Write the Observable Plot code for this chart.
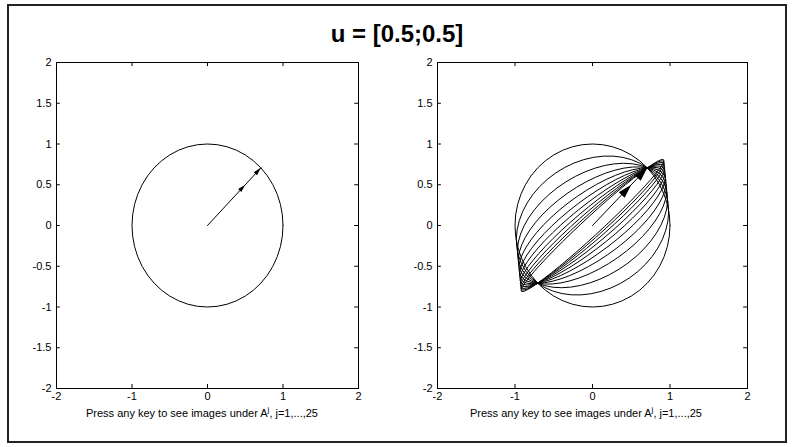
<!DOCTYPE html>
<html><head><meta charset="utf-8">
<script src="https://cdn.jsdelivr.net/npm/d3@7"></script>
<script src="https://cdn.jsdelivr.net/npm/@observablehq/plot@0.6"></script>
<style>
body{margin:0;background:#fff;}
#wrap{position:relative;width:794px;height:447px;overflow:hidden;font-family:"Liberation Sans",Arial,sans-serif;background:#fff;}
#frame{position:absolute;left:7px;top:4px;width:780px;height:439px;border:2px solid #222;box-sizing:border-box;}
#title{position:absolute;left:0;width:794px;top:20px;text-align:center;font-family:"Liberation Sans",Arial,sans-serif;font-weight:bold;font-size:24px;line-height:28px;color:#000;}
.panel{position:absolute;top:0;}
.cap{position:absolute;top:405px;width:360px;font-size:11px;text-align:center;color:#000;}
.cap sup{font-size:8px;}
</style></head><body>
<div id="wrap">
  <div id="frame"></div>
  <div id="title"></div>
  <div id="left" class="panel" style="left:0px"></div>
  <div id="right" class="panel" style="left:397px"></div>
  <div class="cap" style="left:22px">Press any key to see images under A<sup>j</sup>, j=1,...,25</div>
  <div class="cap" style="left:406px">Press any key to see images under A<sup>j</sup>, j=1,...,25</div>
</div>
<script>
// ---- data ----
const titleText = "u = [0.5;0.5]";
const tickX = [-2, -1, 0, 1, 2];
const tickY = [-2, -1.5, -1, -0.5, 0, 0.5, 1, 1.5, 2];
const matrixA = [[0.983, 0.017], [0.163, 0.837]];
const powersLeft = [0];                                // unit circle only
const powersRight = [0, 1, 2, 3, 4, 5, 6, 7, 8, 9, 10];
const vectorU = [0.5, 0.5];
const unitU = [0.7071, 0.7071];
const circleSteps = 48;

document.getElementById("title").textContent = titleText;

function matMul(P, Q) {
  return [[P[0][0]*Q[0][0]+P[0][1]*Q[1][0], P[0][0]*Q[0][1]+P[0][1]*Q[1][1]],
          [P[1][0]*Q[0][0]+P[1][1]*Q[1][0], P[1][0]*Q[0][1]+P[1][1]*Q[1][1]]];
}
function matPow(M, j) { let R = [[1,0],[0,1]]; for (let k = 0; k < j; k++) R = matMul(M, R); return R; }

function curvesFor(powers) {
  const pts = [];
  for (const j of powers) {
    const M = matPow(matrixA, j);
    for (let i = 0; i <= circleSteps; i++) {
      const t = 2 * Math.PI * i / circleSteps;
      const c = Math.cos(t), s = Math.sin(t);
      pts.push({j, x: M[0][0]*c + M[0][1]*s, y: M[1][0]*c + M[1][1]*s});
    }
  }
  return pts;
}

function headSymbol(L, w) {
  return {draw(ctx) { ctx.moveTo(0, 0); ctx.lineTo(-w, L); ctx.lineTo(w, L); ctx.closePath(); }};
}

function panel(powers, ml, mr, head) {
  const heads = [{x: vectorU[0], y: vectorU[1]}, {x: unitU[0], y: unitU[1]}];
  const fmt = d => String(d);
  return Plot.plot({
    width: 397, height: 447,
    marginLeft: ml, marginRight: mr, marginTop: 62, marginBottom: 59,
    style: {fontFamily: '"Liberation Sans", Arial, sans-serif', fontSize: "11px", color: "#000", background: "transparent"},
    x: {domain: [-2, 2]},
    y: {domain: [-2, 2]},
    marks: [
      Plot.axisX({ticks: tickX, tickSize: 0, tickPadding: 4, tickFormat: fmt, label: null, fontSize: 11}),
      Plot.axisY({ticks: tickY, tickSize: 0, tickPadding: 5, tickFormat: fmt, label: null, fontSize: 11}),
      Plot.ruleX(tickX, {x: d => d, y1: -2, y2: -1.95, stroke: "#000"}),
      Plot.ruleX(tickX, {x: d => d, y1: 2, y2: 1.95, stroke: "#000"}),
      Plot.ruleY(tickY, {y: d => d, x1: -2, x2: -1.95, stroke: "#000"}),
      Plot.ruleY(tickY, {y: d => d, x1: 2, x2: 1.95, stroke: "#000"}),
      Plot.line(curvesFor(powers), {x: "x", y: "y", z: "j", stroke: "#000", strokeWidth: 1, curve: "linear"}),
      Plot.line([{x: 0, y: 0}, {x: unitU[0], y: unitU[1]}], {x: "x", y: "y", stroke: "#000", strokeWidth: 1}),
      Plot.dot(heads, {x: "x", y: "y", symbol: headSymbol(head[0], head[1]), r: 3, fill: "#000", stroke: "none", rotate: 43}),
      Plot.frame({stroke: "#000"})
    ]
  });
}

document.getElementById("left").appendChild(panel(powersLeft, 56, 39, [8, 2.2]));
document.getElementById("right").appendChild(panel(powersRight, 40, 47, [14, 4]));
</script>
</body></html>
